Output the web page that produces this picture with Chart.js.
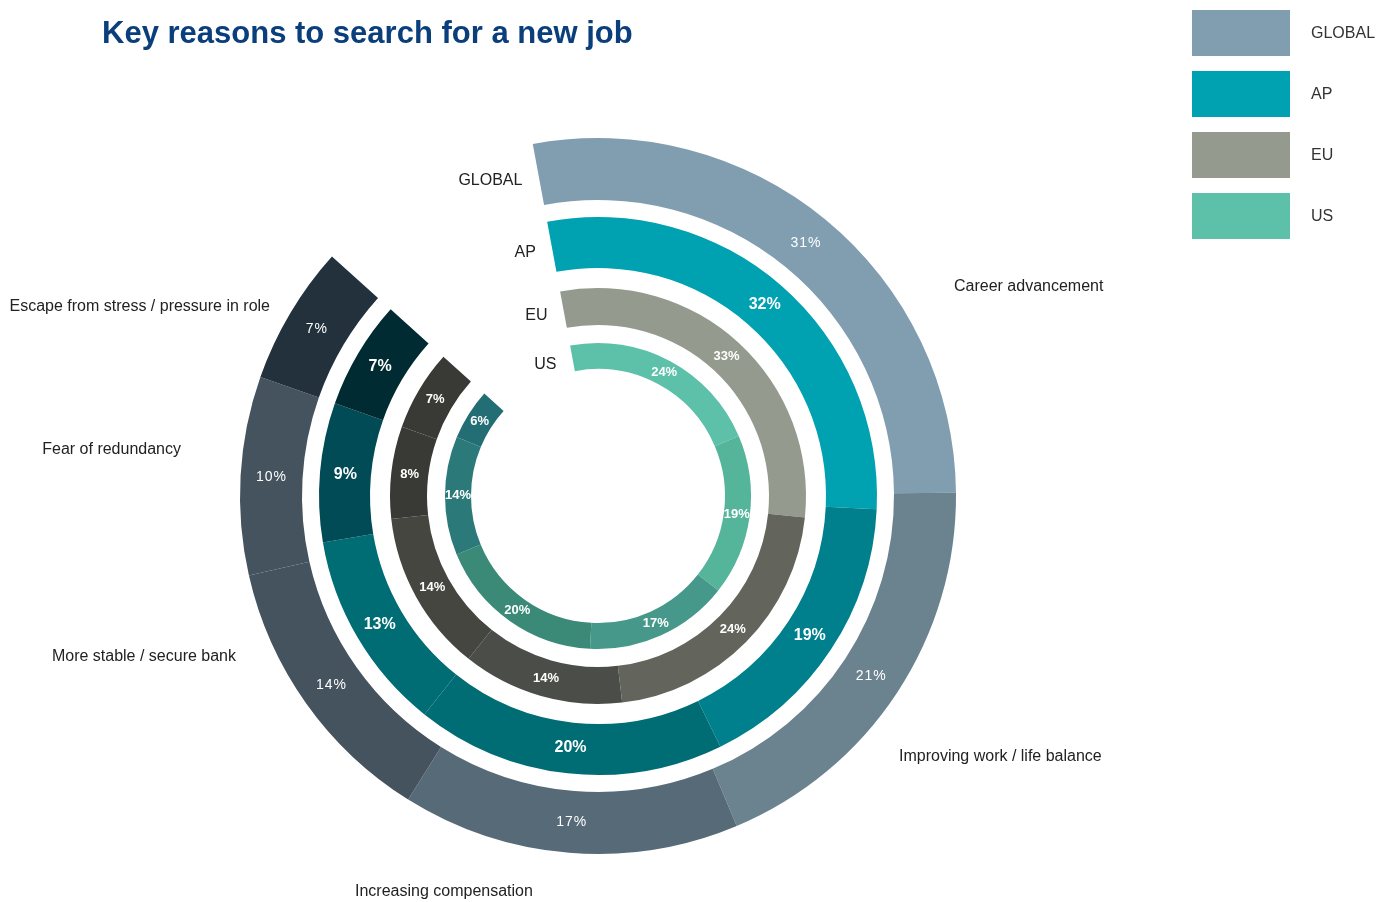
<!DOCTYPE html>
<html>
<head>
<meta charset="utf-8">
<title>Key reasons to search for a new job</title>
<script src="https://cdn.jsdelivr.net/npm/chart.js@4.4.1/dist/chart.umd.min.js"></script>
<style>
 body { margin: 0; background: #fff; font-family: "Liberation Sans", Arial, sans-serif; }
 #wrap { position: relative; width: 1391px; height: 902px; }
 canvas { position: absolute; left: 0; top: 0; }
 #title { position: absolute; left: 102px; top: 15px; margin: 0; font-size: 31px; font-weight: bold; color: #0b3f7c; white-space: nowrap; }
 .key-box { position: absolute; left: 1192px; width: 98px; height: 46px; }
 .key-text { position: absolute; left: 1311px; height: 46px; line-height: 46px; font-size: 16px; color: #333; }
</style>
</head>
<body>
<div id="wrap">
 <canvas id="chart" width="1391" height="902"></canvas>
 <h1 id="title">Key reasons to search for a new job</h1>
 <div id="key"></div>
</div>
<script>
// data
let reasons = ['Career advancement', 'Improving work / life balance', 'Increasing compensation',
  'More stable / secure bank', 'Fear of redundancy', 'Escape from stress / pressure in role'];
let regions = ['GLOBAL', 'AP', 'EU', 'US'];
let globalValues = [31, 21, 17, 14, 10, 7];
let apValues = [32, 19, 20, 13, 9, 7];
let euValues = [33, 24, 14, 14, 8, 7];
let usValues = [24, 19, 17, 20, 14, 6];

// colours
let globalColors = ['#819eb0', '#6b828f', '#566a78', '#44535e', '#44535e', '#22313c'];
let apColors = ['#00a1b0', '#00808c', '#006c74', '#006c74', '#004b55', '#002b32'];
let euColors = ['#949a8d', '#63655d', '#4b4e48', '#45463f', '#393a35', '#393a35'];
let usColors = ['#5cc1a8', '#55b59b', '#46998a', '#3a8a77', '#2b7a79', '#236e75'];
let keyColors = ['#819eb0', '#00a1b0', '#949a8d', '#5cc1a8'];

// ring label fonts, outer to inner
let pctFonts = ['14px "Liberation Sans"', 'bold 16px "Liberation Sans"', 'bold 13px "Liberation Sans"', 'bold 13px "Liberation Sans"'];

// where the reason names sit: [x, y, align]
let reasonSpots = [[954, 287, 'left'], [899, 757, 'left'], [355, 892, 'left'],
  [236, 657, 'right'], [181, 450, 'right'], [270, 307, 'right']];

// legend
let key = document.getElementById('key');
regions.forEach(function (r, i) {
  let top = 10 + i * 61;
  key.innerHTML += '<div class="key-box" style="top:' + top + 'px;background:' + keyColors[i] + '"></div>' +
    '<div class="key-text" style="top:' + top + 'px">' + r + '</div>';
});

// transparent ring used as white gap between the real rings
function gap(w) {
  return { data: [1], backgroundColor: 'rgba(0,0,0,0)', weight: w };
}

let ringIndex = [0, 2, 4, 6];

const labels = {
  id: 'labels',
  afterDatasetsDraw(chart) {
    const c = chart.ctx;
    c.save();
    c.textBaseline = 'middle';
    ringIndex.forEach(function (di, r) {
      const meta = chart.getDatasetMeta(di);
      const vals = chart.data.datasets[di].data;
      c.fillStyle = '#fff';
      c.font = pctFonts[r];
      c.textAlign = 'center';
      c.letterSpacing = r === 0 ? '1px' : '0px';
      meta.data.forEach(function (arc, i) {
        const p = arc.tooltipPosition();
        c.fillText(vals[i] + '%', p.x, p.y);
      });
      // region name just before the start of its ring
      const a = meta.data[0].getProps(['x', 'y', 'startAngle', 'innerRadius', 'outerRadius']);
      const rm = (a.innerRadius + a.outerRadius) / 2;
      c.letterSpacing = '0px';
      c.fillStyle = '#222';
      c.font = '16px "Liberation Sans"';
      c.textAlign = 'right';
      c.fillText(regions[r], a.x + Math.cos(a.startAngle) * rm - 16, a.y + Math.sin(a.startAngle) * rm + 6);
    });
    c.font = '16px "Liberation Sans"';
    c.fillStyle = '#222';
    reasons.forEach(function (t, i) {
      c.textAlign = reasonSpots[i][2];
      c.fillText(t, reasonSpots[i][0], reasonSpots[i][1]);
    });
    c.restore();
  }
};

var ctx = document.getElementById('chart').getContext('2d');

var chart = new Chart(ctx, {
  type: 'doughnut',
  data: {
    labels: reasons,
    datasets: [
      { label: 'GLOBAL', data: globalValues, backgroundColor: globalColors, weight: 62 },
      gap(17),
      { label: 'AP', data: apValues, backgroundColor: apColors, weight: 51 },
      gap(20),
      { label: 'EU', data: euValues, backgroundColor: euColors, weight: 37 },
      gap(18),
      { label: 'US', data: usValues, backgroundColor: usColors, weight: 26 }
    ]
  },
  options: {
    responsive: false,
    animation: false,
    events: [],
    rotation: -10.5,
    circumference: 322.5,
    cutout: 127,
    borderWidth: 0,
    layout: { padding: { left: 240, right: 435, top: 138, bottom: 48 } },
    plugins: {
      legend: { display: false },
      tooltip: { enabled: false }
    }
  },
  plugins: [labels]
});
</script>
</body>
</html>
